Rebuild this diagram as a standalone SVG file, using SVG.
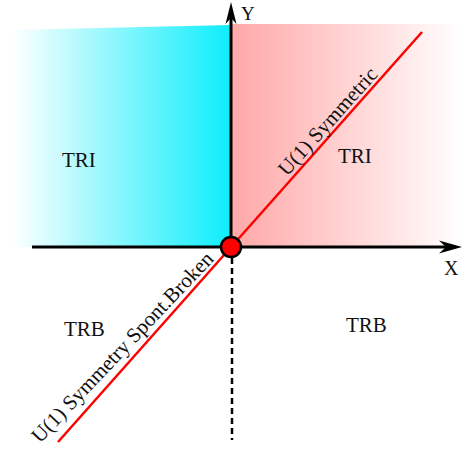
<svg xmlns="http://www.w3.org/2000/svg" width="466" height="450" viewBox="0 0 466 450">
<defs>
<linearGradient id="gc" x1="12" y1="0" x2="230" y2="0" gradientUnits="userSpaceOnUse">
<stop offset="0" stop-color="#ffffff"/>
<stop offset="1" stop-color="#0eeefc"/>
</linearGradient>
<linearGradient id="gp" x1="232" y1="0" x2="462" y2="0" gradientUnits="userSpaceOnUse">
<stop offset="0" stop-color="#ffa8a8"/>
<stop offset="1" stop-color="#ffffff"/>
</linearGradient>
<style>
.lbl{font-family:"Liberation Serif","Times New Roman",serif;font-size:21px;fill:#111}
.ax{stroke:#000;stroke-width:3;fill:none}
</style>
</defs>
<g id="regions">
<polygon points="12,30 231,25 231,247 12,247" fill="url(#gc)"/>
<rect x="232" y="24" width="230" height="223" fill="url(#gp)"/>
</g>
<g id="connectors">
<line class="ax" x1="32" y1="247" x2="448" y2="247"/>
<path d="M462,247 L439,240.5 L446,247 L439,253.5 Z" fill="#000"/>
<line class="ax" x1="231" y1="247" x2="231" y2="14"/>
<path d="M231,2 L225.5,24 L231,18 L236.5,24 Z" fill="#000"/>
<line x1="232" y1="258" x2="232" y2="440" stroke="#000" stroke-width="2.5" stroke-dasharray="6,4"/>
<line x1="422" y1="32" x2="58" y2="442" stroke="#ff0000" stroke-width="2.5"/>
</g>
<g id="origin">
<circle cx="231" cy="247" r="10" fill="#ff0000" stroke="#000" stroke-width="2.5"/>
</g>
<g id="labels">
<text class="lbl" x="241" y="20" style="font-size:19px">Y</text>
<text class="lbl" x="444" y="275" style="font-size:20px">X</text>
<text class="lbl" x="62" y="167">TRI</text>
<text class="lbl" x="338" y="163">TRI</text>
<text class="lbl" x="64" y="336">TRB</text>
<text class="lbl" x="346" y="332">TRB</text>
<text class="lbl" transform="translate(287,177) rotate(-48)">U(1) Symmetric</text>
<text class="lbl" transform="translate(40,444) rotate(-46.5)">U(1) Symmetry Spont.Broken</text>
</g>
</svg>
